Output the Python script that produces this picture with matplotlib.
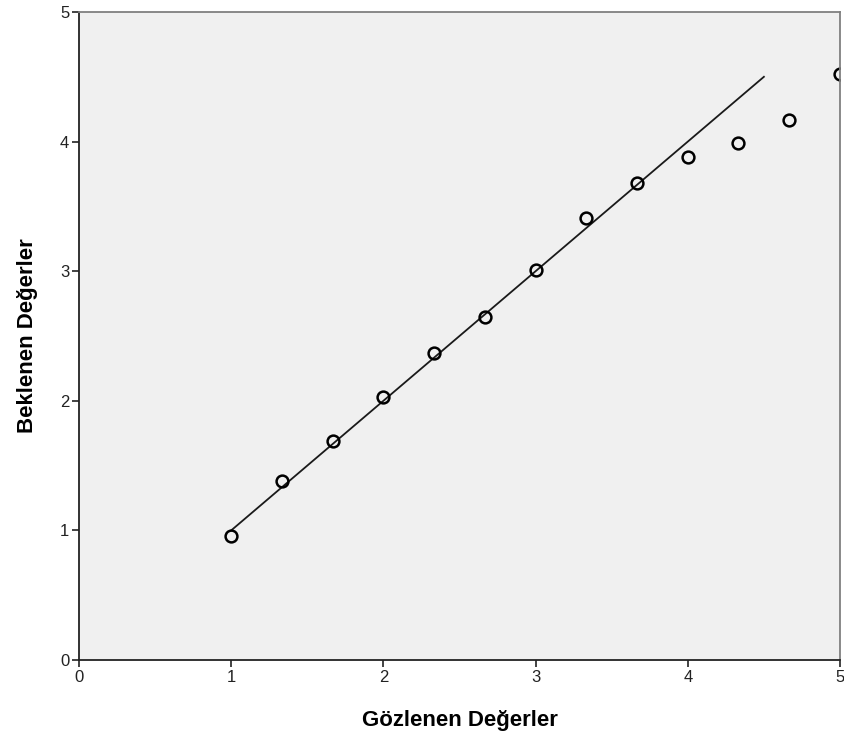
import matplotlib.pyplot as plt
import numpy as np

# observed vs expected values (Q-Q style)
observed = [1.0, 1.333, 1.667, 2.0, 2.333, 2.667, 3.0, 3.333, 3.667, 4.0, 4.333, 4.667, 5.0]
expected = [0.96, 1.38, 1.69, 2.03, 2.37, 2.65, 3.01, 3.41, 3.68, 3.88, 3.99, 4.17, 4.52]
ref_line_x = [1.0, 4.5]
ref_line_y = [1.0, 4.5]
ticks = [0, 1, 2, 3, 4, 5]

plt.rcParams['font.family'] = ['Liberation Sans', 'DejaVu Sans']

fig = plt.figure(figsize=(8.45, 7.37), dpi=100)
ax = fig.add_axes([79 / 845, 1 - 660 / 737, 761 / 845, 648 / 737])
ax.set_facecolor('#f0f0f0')

ax.plot(ref_line_x, ref_line_y, color='#1a1a1a', linewidth=1.3)
ax.plot(observed, expected, linestyle='none', marker='o', markersize=8.5,
        markerfacecolor='none', markeredgecolor='black', markeredgewidth=1.8)

ax.set_xlim(0, 5)
ax.set_ylim(0, 5)
ax.set_xticks(ticks)
ax.set_yticks(ticks)
ax.tick_params(direction='out', length=5, width=1.2, labelsize=12, colors='#222222')
ax.tick_params(axis='x', pad=2)
ax.tick_params(axis='y', pad=2)

for side in ['left', 'bottom']:
    ax.spines[side].set_color('#222222')
    ax.spines[side].set_linewidth(1.3)
for side in ['top', 'right']:
    ax.spines[side].set_color('#808080')
    ax.spines[side].set_linewidth(1.3)

ax.set_xlabel('Gözlenen Değerler', fontsize=16, fontweight='bold', labelpad=18)
ax.set_ylabel('Beklenen Değerler', fontsize=16, fontweight='bold', labelpad=16)

fig.savefig('out.png', dpi=100)
